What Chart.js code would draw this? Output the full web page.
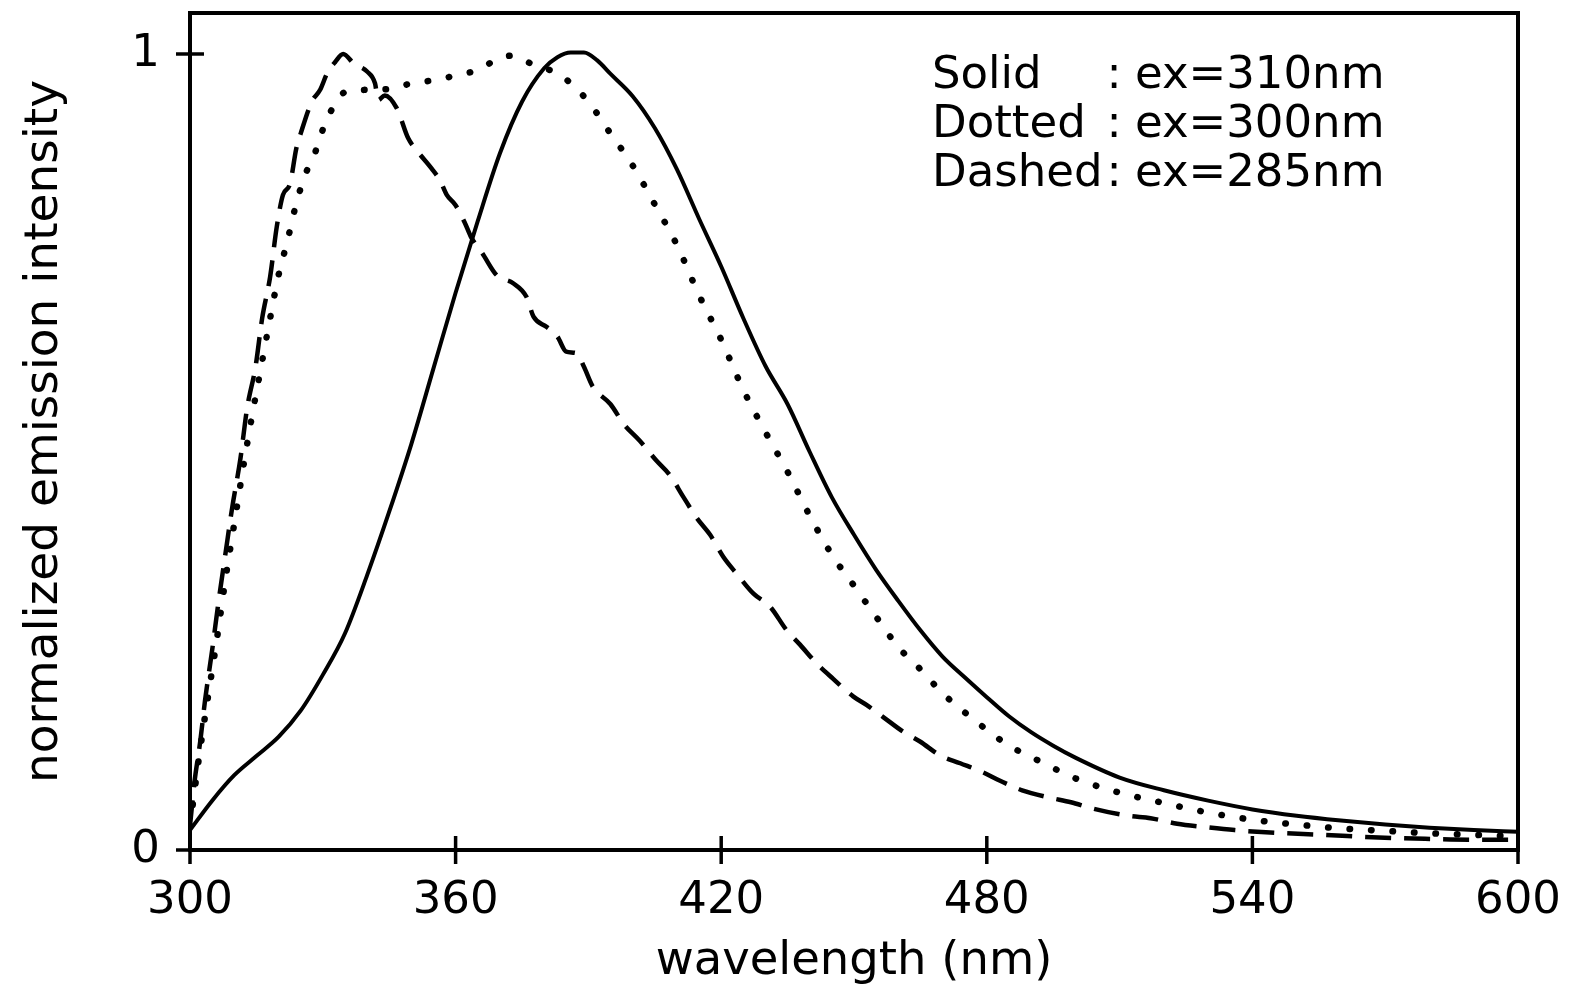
<!DOCTYPE html>
<html>
<head>
<meta charset="utf-8">
<script src="https://cdn.jsdelivr.net/npm/chart.js@4/dist/chart.umd.min.js"></script>
<style>
  html, body { margin: 0; padding: 0; background: #fff; overflow: hidden; }
  canvas { display: block; }
</style>
</head>
<body>
<canvas id="spectra" width="1571" height="996"></canvas>
<script>
// Axis ticks
const xTicks = [300, 360, 420, 480, 540, 600];
const yTicks = [0, 1];

// Legend entries
const seriesNames = ['Solid', 'Dotted', 'Dashed'];
const excitationNm = [310, 300, 285];

// Emission spectrum, excitation 310 nm (solid)
const solidWl = [300, 305, 310, 315, 320, 325, 330, 335, 340, 345, 350, 355, 360, 365, 370, 375, 380, 383, 386, 389, 392, 395,
  400, 405, 410, 415, 420, 425, 430, 435, 440, 445, 450, 455, 460, 465, 470, 475, 480, 485, 490, 495,
  500, 510, 520, 530, 540, 550, 560, 570, 580, 590, 600];
const solidI = [0.025, 0.062, 0.094, 0.118, 0.142, 0.175, 0.220, 0.272, 0.345, 0.425, 0.510, 0.605, 0.700, 0.790, 0.875, 0.940, 0.982, 0.996, 1.002, 1.002, 0.992, 0.975,
  0.947, 0.907, 0.855, 0.793, 0.733, 0.668, 0.608, 0.560, 0.500, 0.443, 0.396, 0.352, 0.313, 0.276, 0.243, 0.217, 0.192, 0.168, 0.148, 0.131,
  0.116, 0.091, 0.075, 0.062, 0.051, 0.043, 0.037, 0.032, 0.028, 0.025, 0.023];

// Emission spectrum, excitation 300 nm (dotted)
const dottedWl = [300, 302, 304, 306, 308, 310, 312, 314, 316, 318, 320, 322, 324, 326, 328, 330, 332, 335, 340, 345,
  350, 355, 360, 365, 370, 373, 377, 382, 385, 390, 395, 400, 405, 410, 415, 420, 425, 430, 435, 440,
  445, 450, 455, 460, 465, 470, 475, 480, 485, 490, 495, 500, 510, 520, 530, 540, 550, 560, 570, 580, 590, 600];
const dottedI = [0.030, 0.115, 0.190, 0.262, 0.340, 0.410, 0.480, 0.545, 0.605, 0.665, 0.722, 0.765, 0.812, 0.848, 0.872, 0.905, 0.930, 0.952, 0.955, 0.956,
  0.963, 0.967, 0.973, 0.980, 0.995, 0.998, 0.988, 0.978, 0.968, 0.940, 0.900, 0.860, 0.811, 0.760, 0.697, 0.641, 0.578, 0.525, 0.475, 0.420,
  0.371, 0.332, 0.293, 0.255, 0.227, 0.197, 0.173, 0.151, 0.131, 0.117, 0.103, 0.090, 0.072, 0.059, 0.047, 0.038, 0.032, 0.027, 0.024, 0.021, 0.019, 0.017];

// Emission spectrum, excitation 285 nm (dashed)
const dashedWl = [300, 301, 302.3, 303.4, 305, 306.5, 308, 309.5, 311.4, 312.9, 314.8, 316.3, 318.1, 319.6, 321, 322.6, 324, 325, 327.5, 329.4,
  331, 332.8, 334.6, 337, 340, 341.8, 342.5, 344, 346.7, 349.3, 351.2, 354.6, 356.5, 358, 360, 362, 363.5, 366, 369.3, 373,
  376, 377.6, 380.6, 383, 385, 387.4, 389, 391, 395, 398, 401.6, 405.4, 408.4, 411.4, 414.5, 417.5, 420.5, 423.5, 427.3, 431,
  434.8, 437.8, 441.6, 445.3, 449.8, 452.9, 456.6, 461, 465, 469.4, 474, 479, 483, 488, 494, 499, 504, 512, 517, 523,
  529, 536, 544, 556, 567, 579, 590, 600];
const dashedI = [0.030, 0.085, 0.136, 0.188, 0.251, 0.314, 0.372, 0.429, 0.492, 0.555, 0.607, 0.668, 0.720, 0.783, 0.823, 0.837, 0.881, 0.900, 0.940, 0.955,
  0.976, 0.990, 1.000, 0.988, 0.978, 0.963, 0.942, 0.948, 0.932, 0.894, 0.879, 0.856, 0.841, 0.823, 0.810, 0.789, 0.770, 0.750, 0.722, 0.712,
  0.695, 0.670, 0.657, 0.645, 0.626, 0.624, 0.607, 0.582, 0.560, 0.535, 0.514, 0.489, 0.471, 0.444, 0.417, 0.396, 0.368, 0.347, 0.322, 0.306,
  0.276, 0.258, 0.234, 0.215, 0.193, 0.182, 0.167, 0.149, 0.136, 0.119, 0.109, 0.098, 0.087, 0.075, 0.066, 0.060, 0.052, 0.043, 0.040, 0.033,
  0.029, 0.025, 0.022, 0.019, 0.016, 0.014, 0.013, 0.013];

const FONT = '"DejaVu Sans", "Liberation Sans", sans-serif';
const toPoints = (wl, val) => wl.map((w, i) => ({ x: w, y: val[i] }));

// Fixed axis box sizes; label overhang must not shrink the plot box
const fixBox = (s, size) => {
  if (s.isHorizontal()) s.height = size; else s.width = size;
  s.paddingTop = 0; s.paddingBottom = 0; s.paddingLeft = 0; s.paddingRight = 0;
};

// Box frame, ticks crossing the axes and the line-style key
const framePlugin = {
  id: 'frameAndKey',
  afterDatasetsDraw(chart) {
    const { ctx, chartArea: { left, right, top, bottom }, scales: { x, y } } = chart;
    ctx.save();
    ctx.strokeStyle = '#000';
    ctx.lineWidth = 4;
    ctx.strokeRect(left, top, right - left, bottom - top);
    ctx.lineWidth = 3.5;
    xTicks.forEach(v => {
      const px = x.getPixelForValue(v);
      ctx.beginPath(); ctx.moveTo(px, bottom - 14); ctx.lineTo(px, bottom + 14); ctx.stroke();
    });
    yTicks.forEach(v => {
      const py = y.getPixelForValue(v);
      ctx.beginPath(); ctx.moveTo(left - 14, py); ctx.lineTo(left + 14, py); ctx.stroke();
    });
    ctx.fillStyle = '#000';
    ctx.font = '45px ' + FONT;
    ctx.textBaseline = 'alphabetic';
    seriesNames.forEach((name, i) => {
      const by = top + 75 + i * 49;
      ctx.textAlign = 'left';
      ctx.fillText(name, left + 742, by);
      ctx.textAlign = 'center';
      ctx.fillText(':', left + 924, by);
      ctx.textAlign = 'left';
      ctx.fillText('ex=' + excitationNm[i] + 'nm', left + 945, by);
    });
    ctx.restore();
  }
};

new Chart(document.getElementById('spectra'), {
  type: 'line',
  data: {
    datasets: [
      {
        label: seriesNames[0],
        data: toPoints(solidWl, solidI),
        borderColor: '#000', borderWidth: 4,
        pointRadius: 0, cubicInterpolationMode: 'monotone'
      },
      {
        label: seriesNames[1],
        data: toPoints(dottedWl, dottedI),
        borderColor: '#000', borderWidth: 6.5,
        borderDash: [0.5, 21], borderCapStyle: 'round',
        pointRadius: 0, cubicInterpolationMode: 'monotone'
      },
      {
        label: seriesNames[2],
        data: toPoints(dashedWl, dashedI),
        borderColor: '#000', borderWidth: 4.5,
        borderDash: [26, 13],
        pointRadius: 0, cubicInterpolationMode: 'monotone'
      }
    ]
  },
  options: {
    responsive: false,
    animation: false,
    devicePixelRatio: 1,
    layout: { padding: { top: 13, right: 53, left: 0, bottom: 0 } },
    plugins: { legend: { display: false }, tooltip: { enabled: false } },
    scales: {
      x: {
        type: 'linear', min: 300, max: 600,
        afterBuildTicks: s => { s.ticks = xTicks.map(v => ({ value: v })); },
        afterFit: s => fixBox(s, 146),
        grid: { display: false, drawTicks: false },
        border: { display: false },
        ticks: { color: '#000', font: { family: FONT, size: 45 }, padding: 24, maxRotation: 0, autoSkip: false },
        title: { display: true, text: 'wavelength (nm)', color: '#000', font: { family: FONT, size: 46.5 }, padding: { top: 0, bottom: 6 } }
      },
      y: {
        type: 'linear', min: 0, max: 1.0515,
        afterBuildTicks: s => { s.ticks = yTicks.map(v => ({ value: v })); },
        afterFit: s => fixBox(s, 190),
        grid: { display: false, drawTicks: false },
        border: { display: false },
        ticks: { color: '#000', font: { family: FONT, size: 45 }, padding: 30 },
        title: { display: true, text: 'normalized emission intensity', color: '#000', font: { family: FONT, size: 47 }, padding: { top: 17, bottom: 0 } }
      }
    }
  },
  plugins: [framePlugin]
});
</script>
</body>
</html>
